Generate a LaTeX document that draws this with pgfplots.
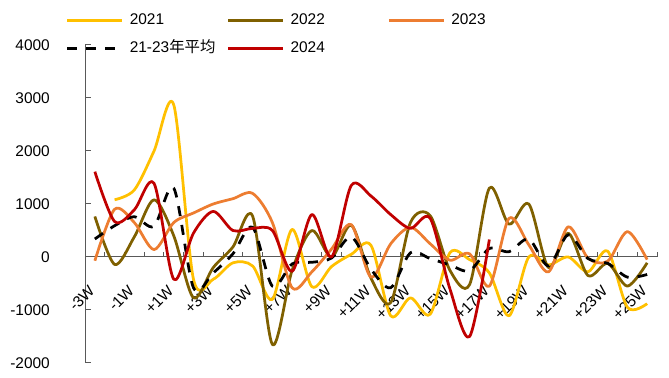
\documentclass[border=0pt]{standalone}
\usepackage{fontspec}
\setmainfont{Liberation Sans}
\newfontfamily\cjk{Noto Sans CJK SC}
\usepackage{pgfplots}
\pgfplotsset{compat=1.18}

\definecolor{c21}{HTML}{FFC000}
\definecolor{c22}{HTML}{7F6000}
\definecolor{c23}{HTML}{ED7D31}
\definecolor{c24}{HTML}{C00000}
\definecolor{axisgray}{HTML}{595959}

\begin{document}
\begin{tikzpicture}
\path[use as bounding box] (0,0) rectangle (669bp,378bp);
\begin{axis}[
  at={(85bp,15bp)}, anchor=south west,
  scale only axis, width=572bp, height=318bp,
  xmin=-0.5, xmax=28.5, ymin=-2000, ymax=4000,
  enlargelimits=false,
  axis x line=middle, axis y line=left,
  axis line style={-, draw=axisgray, line width=1bp},
  ytick={-2000,-1000,...,4000},
  xtick={0,2,...,28},
  xticklabels={-3W,-1W,+1W,+3W,+5W,+7W,+9W,+11W,+13W,+15W,+17W,+19W,+21W,+23W,+25W},
  minor xtick={0.5,1.5,...,28.5},
  tick align=inside,
  major tick length=6bp, minor tick length=4.5bp,
  tick style={draw=axisgray, line width=1bp},
  major x tick style={draw=none},
  tick label style={font=\fontsize{15.5}{18}\selectfont},
  /pgf/number format/assume math mode=true,
  /pgf/number format/set thousands separator={},
  yticklabel style={inner sep=0pt, xshift=-35bp},
  xticklabel style={xshift=-3bp, yshift=-31bp, rotate=45, anchor=east, inner sep=0pt},
  legend columns=3,
  legend style={at={(-0.0332,1.10)}, anchor=north west, draw=none, fill=none,
    inner sep=0pt, outer sep=0pt, font=\fontsize{15.5}{18}\selectfont,
    nodes={inner sep=0pt, text height=11bp, text depth=3bp},
    /tikz/row sep=14bp},
  legend image code/.code={\draw[#1] (0bp,0bp) -- (55bp,0bp);},
  every axis plot/.append style={smooth, tension=0.5, line width=2.75bp, line join=round},
]
% 2021
\addplot[c21] coordinates {
(1,1080) (2,1265) (3,2000) (4,2870) (5,-420) (6,-420) (7,-110) (8,-170)
(9,-800) (10,520) (11,-560) (12,-180) (13,50) (14,220) (15,-1110) (16,-770)
(17,-1080) (18,80) (19,-50) (20,-300) (21,-1110) (22,0) (23,-150) (24,0)
(25,-280) (26,110) (27,-950) (28,-880)};
\addlegendentry{\hspace{6bp}\makebox[97bp][l]{2021}}
% 2022
\addplot[c22] coordinates {
(0,765) (1,-140) (2,380) (3,1080) (4,400) (5,-770) (6,-200) (7,190) (8,770)
(9,-1650) (10,-250) (11,500) (12,0) (13,600) (14,-400) (15,-860) (16,650)
(17,780) (18,-250) (19,-520) (20,1300) (21,620) (22,1000) (23,-200) (24,450)
(25,-350) (26,-120) (27,-550) (28,-110)};
\addlegendentry{\hspace{6bp}\makebox[97bp][l]{2022}}
% 2023
\addplot[c23] coordinates {
(0,-70) (1,900) (2,650) (3,140) (4,650) (5,830) (6,1000) (7,1100) (8,1200)
(9,650) (10,-580) (11,-280) (12,150) (13,610) (14,-380) (15,250) (16,560)
(17,250) (18,-60) (19,60) (20,-550) (21,730) (22,230) (23,-280) (24,570)
(25,-20) (26,-80) (27,480) (28,-50)};
\addlegendentry{\hspace{6bp}\makebox[97bp][l]{2023}}
% 21-23 average
\addplot[black, dash pattern=on 10bp off 9bp] coordinates {
(0,340) (1,590) (2,760) (3,580) (4,1300) (5,-580) (6,-300) (7,60) (8,560)
(9,-550) (10,-130) (11,-100) (12,-20) (13,380) (14,-230) (15,-580) (16,80)
(17,-30) (18,-150) (19,-260) (20,160) (21,100) (22,340) (23,-170) (24,420)
(25,-30) (26,-120) (27,-380) (28,-330)};
\addlegendentry{\hspace{6bp}\makebox[97bp][l]{21-23{\cjk 年平均}}}
% 2024
\addplot[c24] coordinates {
(0,1610) (1,670) (2,890) (3,1390) (4,-420) (5,450) (6,860) (7,500) (8,540)
(9,500) (10,-270) (11,800) (12,0) (13,1350) (14,1150) (15,800) (16,540)
(17,730) (18,-600) (19,-1500) (20,330)};
\addlegendentry{\hspace{6bp}\makebox[97bp][l]{2024}}
\end{axis}
\end{tikzpicture}
\end{document}
